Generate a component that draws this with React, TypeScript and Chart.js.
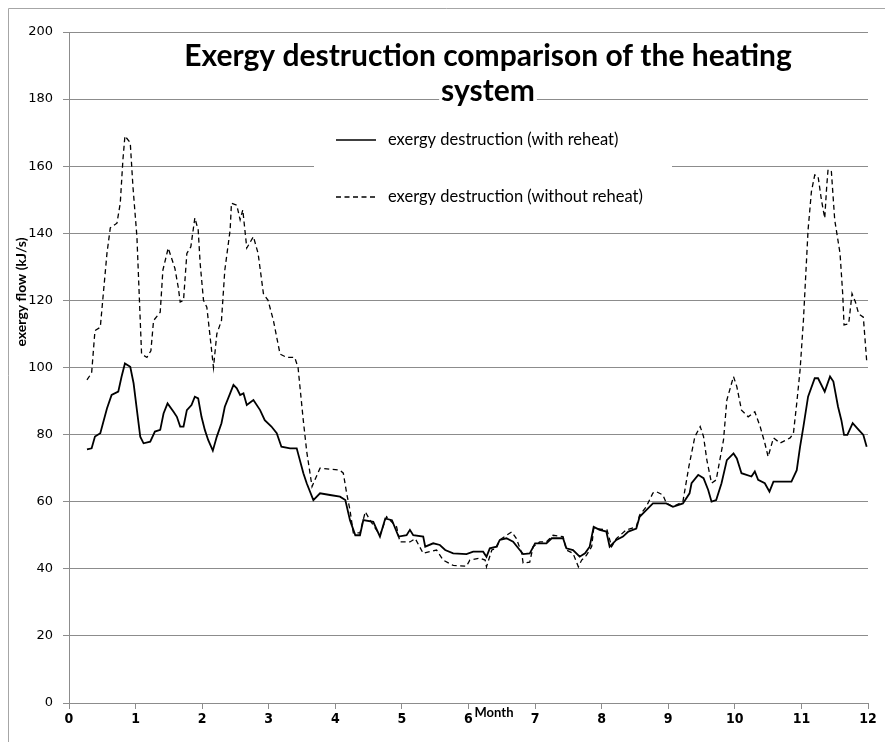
import React, { useEffect, useRef } from "react";
import { Chart, registerables } from "chart.js";

Chart.register(...registerables);

const titleLines = ["Exergy destruction comparison of the heating", "system"];
const seriesLabels = ["exergy destruction (with reheat)", "exergy destruction (without reheat)"];
const xAxisTitle = "Month";
const yAxisTitle = "exergy flow (kJ/s)";

const monthsWith = [
  0.27, 0.34, 0.39, 0.47, 0.57, 0.64, 0.74, 0.79, 0.84, 0.92, 0.97, 1.02, 1.07, 1.12, 1.22, 1.29, 1.37, 1.42, 1.48, 1.57,
  1.62, 1.67, 1.72, 1.77, 1.84, 1.89, 1.94, 1.99, 2.04, 2.09, 2.16, 2.22, 2.29, 2.34, 2.42, 2.47, 2.52, 2.57, 2.62, 2.67,
  2.77, 2.87, 2.94, 3.04, 3.12, 3.19, 3.32, 3.42, 3.44, 3.52, 3.57, 3.67, 3.77, 3.92, 4.07, 4.15, 4.22, 4.3, 4.37, 4.42,
  4.57, 4.67, 4.75, 4.85, 4.95, 5.07, 5.12, 5.17, 5.32, 5.35, 5.47, 5.57, 5.65, 5.77, 5.97, 6.07, 6.22, 6.27, 6.32, 6.42,
  6.47, 6.57, 6.67, 6.77, 6.82, 6.92, 7.0, 7.17, 7.25, 7.42, 7.47, 7.57, 7.67, 7.75, 7.82, 7.88, 7.97, 8.07, 8.12, 8.22,
  8.32, 8.4, 8.52, 8.57, 8.67, 8.77, 8.97, 9.07, 9.22, 9.32, 9.35, 9.45, 9.53, 9.6, 9.65, 9.72, 9.8, 9.88, 9.98, 10.03,
  10.1, 10.25, 10.3, 10.35, 10.45, 10.52, 10.58, 10.73, 10.85, 10.93, 10.98, 11.03, 11.1, 11.2, 11.25, 11.35, 11.43, 11.48, 11.55, 11.6,
  11.64, 11.69, 11.77, 11.86, 11.93, 11.98,
];
const valuesWith = [
  75.6, 75.9, 79.4, 80.4, 87.8, 91.8, 92.8, 97.3, 101.2, 100.2, 95.3, 87.3, 79.4, 77.4, 77.9, 80.9, 81.4, 86.3, 89.3, 86.8,
  85.3, 82.4, 82.4, 87.3, 88.8, 91.3, 90.8, 85.3, 81.4, 78.4, 75.2, 79.4, 83.4, 88.3, 92.3, 94.8, 93.8, 91.8, 92.3, 88.8,
  90.3, 87.3, 84.3, 82.4, 80.4, 76.4, 75.9, 75.9, 74.4, 68.5, 65.5, 60.5, 62.5, 62, 61.5, 60.5, 54.5, 50, 50, 54.5,
  54, 49.6, 55, 54.5, 49.6, 50, 51.6, 50, 49.6, 46.6, 47.6, 47.1, 45.6, 44.6, 44.4, 45.1, 45.1, 43.6, 46.1, 46.6,
  48.6, 49.1, 48.1, 45.6, 44.4, 44.6, 47.6, 47.6, 49.1, 49.1, 46.1, 45.6, 43.6, 44.6, 46.6, 52.5, 51.6, 51.1, 46.6, 48.6,
  49.6, 51.1, 52, 55.5, 57.5, 59.5, 59.5, 58.5, 59.5, 62.5, 65.5, 68, 67, 63.5, 60, 60.5, 65.5, 72.4, 74.4, 72.9,
  68.5, 67.5, 69, 66.5, 65.5, 63, 66, 66, 66, 69.4, 76.4, 82.4, 91.3, 96.8, 96.8, 92.8, 97.3, 95.8, 88.3, 84.3,
  79.9, 79.9, 83.4, 81.4, 79.9, 76.4,
];

const monthsWithout = [
  0.27, 0.34, 0.39, 0.47, 0.57, 0.62, 0.72, 0.77, 0.81, 0.84, 0.92, 0.96, 1.02, 1.07, 1.09, 1.17, 1.23, 1.27, 1.37, 1.41,
  1.49, 1.59, 1.64, 1.67, 1.72, 1.77, 1.83, 1.89, 1.94, 1.97, 2.02, 2.07, 2.12, 2.17, 2.22, 2.29, 2.34, 2.42, 2.44, 2.52,
  2.57, 2.61, 2.67, 2.77, 2.84, 2.92, 2.99, 3.07, 3.17, 3.27, 3.39, 3.44, 3.52, 3.57, 3.65, 3.77, 4.07, 4.12, 4.17, 4.22,
  4.27, 4.37, 4.45, 4.52, 4.67, 4.77, 4.92, 4.97, 5.12, 5.2, 5.32, 5.52, 5.62, 5.77, 5.97, 6.02, 6.17, 6.25, 6.27, 6.35,
  6.42, 6.47, 6.57, 6.65, 6.72, 6.8, 6.82, 6.92, 6.97, 7.07, 7.17, 7.27, 7.42, 7.47, 7.57, 7.65, 7.7, 7.77, 7.85, 7.88,
  8.08, 8.15, 8.22, 8.37, 8.52, 8.57, 8.67, 8.77, 8.82, 8.92, 8.97, 9.07, 9.22, 9.31, 9.4, 9.48, 9.53, 9.58, 9.65, 9.72,
  9.83, 9.88, 9.98, 10.03, 10.1, 10.2, 10.3, 10.38, 10.45, 10.5, 10.58, 10.68, 10.83, 10.88, 10.93, 10.98, 11.03, 11.1, 11.15, 11.2,
  11.25, 11.3, 11.35, 11.38, 11.4, 11.45, 11.5, 11.58, 11.62, 11.64, 11.71, 11.76, 11.81, 11.86, 11.93, 11.98,
];
const valuesWithout = [
  96.3, 98.4, 111, 112, 134, 141.6, 143, 149, 162, 169, 167, 154, 139, 114, 104, 103, 105, 114, 116.5, 129,
  135.6, 129.6, 124, 119.5, 120, 134, 136, 144.6, 141, 131, 120, 118, 109, 100, 110, 114, 129, 141, 149, 148.4,
  144, 147, 135.6, 139, 134, 122, 120, 114, 104, 103, 103, 100, 84, 75, 64.5, 70, 69.4, 68.5, 62.5, 57.5,
  50.7, 50.7, 57, 54.5, 50, 55.5, 52.5, 48, 48, 49, 44.6, 45.6, 42.6, 41, 40.8, 42.6, 43.2, 42.6, 40.6, 45.6,
  46.2, 48.6, 50, 51, 49, 44.6, 41.7, 42, 46.6, 48, 48, 50, 49.6, 45.6, 44.6, 40.6, 42.6, 44, 46.6, 52,
  51.6, 46.6, 49, 51.6, 52.5, 56, 58.5, 62.6, 63, 62, 59.6, 58.5, 60, 70.5, 79.4, 82.4, 79.4, 72.4, 65.5, 66.5,
  78.4, 90.3, 97.3, 94.3, 87.3, 85.3, 86.8, 82.4, 77.5, 73.4, 79, 77.5, 79, 80.4, 89.4, 99.3, 114, 141, 152.4, 157.4,
  157, 150, 144.5, 154, 159, 158.4, 144, 134, 122, 112.7, 113, 122, 119.6, 116, 115, 102,
];

const xTicks = { min: 0, max: 12, step: 1 };
const yTicks = { min: 0, max: 200, step: 20 };

const GRID = "#8c8c8c";

const decorPlugin = {
  id: "decor",
  afterDraw(chart: any) {
    const ctx = chart.ctx as CanvasRenderingContext2D;
    ctx.save();
    // outer border (left & top)
    ctx.strokeStyle = "#a6a6a6";
    ctx.lineWidth = 1;
    ctx.beginPath();
    ctx.moveTo(0.5, chart.height);
    ctx.lineTo(0.5, 0.5);
    ctx.lineTo(chart.width, 0.5);
    ctx.stroke();

    // title
    ctx.font = "bold 30px Lato, 'Open Sans', sans-serif";
    ctx.textAlign = "center";
    ctx.textBaseline = "middle";
    const cx = 480;
    const w2 = ctx.measureText(titleLines[1]).width;
    ctx.fillStyle = "#fff";
    ctx.fillRect(cx - w2 / 2 - 2, 72, w2 + 4, 24);
    ctx.fillStyle = "#000";
    ctx.fillText(titleLines[0], cx, 48);
    ctx.fillText(titleLines[1], cx, 83);

    // legend
    ctx.fillStyle = "#fff";
    ctx.fillRect(306, 110, 358, 100);
    ctx.strokeStyle = "#000";
    ctx.lineWidth = 1.6;
    ctx.beginPath();
    ctx.moveTo(328, 132);
    ctx.lineTo(368, 132);
    ctx.stroke();
    ctx.lineWidth = 1.3;
    ctx.setLineDash([5, 3.5]);
    ctx.beginPath();
    ctx.moveTo(328, 189);
    ctx.lineTo(370, 189);
    ctx.stroke();
    ctx.setLineDash([]);
    ctx.font = "16.5px Lato, 'Open Sans', sans-serif";
    ctx.textAlign = "left";
    ctx.fillStyle = "#000";
    ctx.fillText(seriesLabels[0], 380, 132);
    ctx.fillText(seriesLabels[1], 380, 189);

    // x axis title
    ctx.font = "bold 13px Lato, 'Open Sans', sans-serif";
    ctx.textAlign = "center";
    ctx.fillText(xAxisTitle, 486, 705);

    // y axis title
    ctx.translate(13, 284);
    ctx.rotate(-Math.PI / 2);
    ctx.font = "bold 14px Lato, 'Open Sans', sans-serif";
    ctx.fillText(yAxisTitle, 0, 0);
    ctx.restore();
  },
};

export default function App() {
  const ref = useRef<HTMLCanvasElement | null>(null);
  useEffect(() => {
    if (!ref.current) return;
    const chart = new Chart(ref.current, {
      type: "line",
      data: {
        datasets: [
          {
            label: seriesLabels[0],
            data: monthsWith.map((m, i) => ({ x: m, y: valuesWith[i] })),
            borderColor: "#000",
            borderWidth: 1.8,
            pointRadius: 0,
            tension: 0,
            fill: false,
          },
          {
            label: seriesLabels[1],
            data: monthsWithout.map((m, i) => ({ x: m, y: valuesWithout[i] })),
            borderColor: "#000",
            borderWidth: 1.3,
            borderDash: [5, 3.5],
            pointRadius: 0,
            tension: 0,
            fill: false,
          },
        ],
      },
      options: {
        animation: false,
        responsive: false,
        layout: { padding: { top: 24, right: 17, left: 0, bottom: 0 } },
        plugins: { legend: { display: false }, title: { display: false }, tooltip: { enabled: false } },
        scales: {
          x: {
            type: "linear",
            min: xTicks.min,
            max: xTicks.max,
            ticks: {
              stepSize: xTicks.step,
              color: "#000",
              padding: 2,
              maxRotation: 0,
              font: { family: "'Liberation Sans Narrow', 'DejaVu Sans Condensed', sans-serif", size: 14, weight: "bold" },
            },
            grid: { drawOnChartArea: false, drawTicks: true, tickLength: 6, color: GRID },
            border: { color: GRID },
            afterFit(s: any) {
              s.height = 39;
            },
          },
          y: {
            min: yTicks.min,
            max: yTicks.max,
            ticks: {
              stepSize: yTicks.step,
              color: "#000",
              padding: 10,
              font: { family: "'DejaVu Sans', sans-serif", size: 13 },
            },
            grid: { color: GRID, tickLength: 6 },
            border: { color: GRID },
            afterFit(s: any) {
              s.width = 61;
            },
          },
        },
      },
      plugins: [decorPlugin],
    });
    return () => chart.destroy();
  }, []);
  return (
    <div style={{ position: "fixed", left: 8, top: 8 }}>
      <canvas ref={ref} width={877} height={734} style={{ display: "block" }} />
    </div>
  );
}
